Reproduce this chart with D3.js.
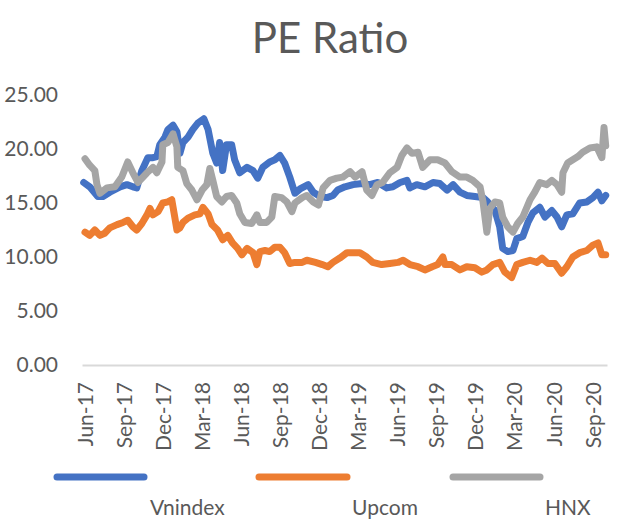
<!DOCTYPE html>
<html>
<head>
<meta charset="utf-8">
<script src="https://cdn.jsdelivr.net/npm/d3@7"></script>
<style>
  html, body { margin: 0; padding: 0; background: #fff; }
  svg { display: block; }
  text { font-family: Lato, "Noto Sans", sans-serif; fill: #595959; }
</style>
</head>
<body>
<svg id="chart" width="621" height="532"></svg>
<script>
// ---------- DATA ----------
const title = "PE Ratio";
const seriesNames = ["Vnindex", "Upcom", "HNX"];
const yTicks = [0, 5, 10, 15, 20, 25];
const xTickDates = ["2017-06-01","2017-09-01","2017-12-01","2018-03-01","2018-06-01","2018-09-01","2018-12-01","2019-03-01","2019-06-01","2019-09-01","2019-12-01","2020-03-01","2020-06-01","2020-09-01"];

const vnDates = ["2017-05-29","2017-06-12","2017-07-01","2017-07-13","2017-07-29","2017-08-22","2017-09-07","2017-09-21","2017-09-30","2017-10-12","2017-10-26","2017-11-07","2017-11-16","2017-11-23","2017-12-05","2017-12-12","2017-12-24","2018-01-02","2018-01-09","2018-01-16","2018-01-28","2018-02-08","2018-02-20","2018-03-06","2018-03-16","2018-03-27","2018-04-05","2018-04-12","2018-04-19","2018-04-28","2018-05-10","2018-05-17","2018-05-29","2018-06-15","2018-06-29","2018-07-10","2018-07-22","2018-08-07","2018-08-19","2018-08-31","2018-09-11","2018-09-23","2018-10-05","2018-10-17","2018-11-05","2018-11-17","2018-12-03","2018-12-19","2019-01-02","2019-01-13","2019-01-30","2019-02-18","2019-03-11","2019-03-29","2019-04-17","2019-05-08","2019-05-22","2019-06-08","2019-06-24","2019-07-01","2019-07-17","2019-08-05","2019-08-24","2019-09-09","2019-09-26","2019-10-10","2019-10-26","2019-11-11","2019-11-30","2019-12-19","2019-12-30","2020-01-16","2020-01-27","2020-02-03","2020-02-15","2020-02-27","2020-03-07","2020-03-21","2020-04-02","2020-04-14","2020-04-30","2020-05-12","2020-05-28","2020-06-09","2020-06-20","2020-07-02","2020-07-16","2020-08-01","2020-08-18","2020-09-01","2020-09-13","2020-09-22","2020-10-01"];
const vnValues = [16.9,16.5,15.6,15.6,16.0,16.5,16.7,16.5,16.4,18.0,19.2,19.2,19.3,20.4,21.1,21.8,22.2,21.6,19.6,20.6,21.1,21.8,22.4,22.8,21.8,19.6,18.7,20.6,18.0,20.4,20.4,19.0,17.8,18.3,18.0,17.3,18.3,18.8,19.0,19.4,18.7,17.4,15.9,16.3,16.7,16.0,15.6,15.5,15.7,16.2,16.5,16.7,16.8,16.7,16.9,16.4,16.5,16.9,17.1,16.4,16.7,16.5,16.9,16.8,16.2,16.7,16.0,15.7,15.6,15.5,15.1,14.3,12.8,10.8,10.5,10.6,11.7,11.9,13.2,14.1,14.6,13.7,14.3,13.7,12.8,13.9,14.0,15.0,15.1,15.5,16.0,15.2,15.7];

const upDates = ["2017-06-01","2017-06-12","2017-06-24","2017-07-06","2017-07-17","2017-07-29","2017-08-15","2017-08-29","2017-09-09","2017-09-21","2017-09-30","2017-10-12","2017-10-24","2017-10-31","2017-11-07","2017-11-19","2017-11-30","2017-12-12","2017-12-21","2017-12-28","2018-01-02","2018-01-09","2018-01-16","2018-01-28","2018-02-13","2018-02-25","2018-03-04","2018-03-16","2018-03-25","2018-04-07","2018-04-19","2018-05-01","2018-05-12","2018-05-24","2018-06-03","2018-06-15","2018-06-29","2018-07-08","2018-07-15","2018-07-27","2018-08-07","2018-08-19","2018-08-31","2018-09-11","2018-09-23","2018-10-05","2018-10-22","2018-11-02","2018-11-22","2018-12-08","2018-12-21","2019-01-02","2019-01-18","2019-02-04","2019-02-18","2019-03-06","2019-03-22","2019-04-05","2019-04-26","2019-05-15","2019-06-03","2019-06-15","2019-07-01","2019-07-20","2019-08-05","2019-08-22","2019-09-04","2019-09-16","2019-09-21","2019-10-07","2019-10-26","2019-11-11","2019-11-30","2019-12-16","2019-12-28","2020-01-11","2020-01-27","2020-02-08","2020-02-24","2020-03-07","2020-03-21","2020-04-07","2020-04-23","2020-05-05","2020-05-19","2020-06-04","2020-06-20","2020-07-02","2020-07-16","2020-08-01","2020-08-18","2020-09-01","2020-09-13","2020-09-22","2020-10-01"];
const upValues = [12.3,12.0,12.5,12.0,12.2,12.7,13.0,13.2,13.4,12.8,12.5,13.1,13.9,14.5,13.9,14.2,15.0,15.1,15.3,13.7,12.5,12.7,13.2,13.6,13.9,14.0,14.6,14.0,13.0,12.5,11.6,12.0,11.3,10.8,10.2,10.8,10.4,9.3,10.5,10.6,10.5,10.9,10.9,10.4,9.4,9.5,9.5,9.7,9.5,9.3,9.1,9.5,9.9,10.4,10.4,10.4,10.0,9.5,9.3,9.4,9.5,9.7,9.3,9.1,8.8,9.1,9.3,10.0,9.3,9.3,8.8,9.1,9.0,8.6,8.8,9.3,9.5,8.6,8.1,9.3,9.5,9.7,9.5,9.9,9.4,9.4,8.5,9.1,10.0,10.4,10.6,11.1,11.3,10.2,10.2];

const hnxDates = ["2017-06-01","2017-06-12","2017-06-24","2017-06-29","2017-07-06","2017-07-22","2017-08-10","2017-08-26","2017-09-09","2017-09-21","2017-10-03","2017-10-24","2017-11-07","2017-11-16","2017-11-28","2017-11-30","2017-12-12","2017-12-24","2018-01-02","2018-01-04","2018-01-16","2018-01-25","2018-02-06","2018-02-18","2018-03-02","2018-03-13","2018-03-20","2018-03-27","2018-04-05","2018-04-17","2018-04-28","2018-05-10","2018-05-22","2018-05-29","2018-06-10","2018-06-26","2018-07-08","2018-07-15","2018-07-31","2018-08-12","2018-08-19","2018-09-04","2018-09-16","2018-09-28","2018-10-05","2018-10-22","2018-11-02","2018-11-17","2018-11-29","2018-12-10","2018-12-26","2019-01-11","2019-01-25","2019-02-11","2019-02-23","2019-03-11","2019-03-22","2019-04-03","2019-04-15","2019-04-28","2019-05-15","2019-06-01","2019-06-12","2019-06-24","2019-07-06","2019-07-20","2019-07-31","2019-08-17","2019-09-04","2019-09-21","2019-10-07","2019-10-26","2019-11-11","2019-11-25","2019-12-12","2019-12-19","2019-12-28","2020-01-04","2020-01-16","2020-01-27","2020-02-03","2020-02-15","2020-02-27","2020-03-09","2020-03-21","2020-04-07","2020-04-18","2020-04-30","2020-05-16","2020-05-28","2020-06-09","2020-06-20","2020-06-23","2020-07-04","2020-07-16","2020-07-28","2020-08-08","2020-08-25","2020-09-10","2020-09-22","2020-09-27","2020-10-01"];
const hnxValues = [19.1,18.5,18.0,16.7,15.9,16.4,16.5,17.4,18.8,17.8,16.9,17.8,18.3,17.8,18.8,20.4,20.6,21.4,20.2,18.3,18.0,16.8,16.2,15.3,16.2,16.7,18.2,17.1,15.6,15.1,15.6,15.7,15.0,14.0,13.2,13.1,13.9,13.2,13.2,13.7,15.6,15.5,15.1,14.2,15.0,15.5,15.7,15.1,14.8,16.4,17.1,17.3,17.4,17.9,17.4,17.9,16.2,15.7,16.7,16.9,17.8,18.3,19.4,20.1,19.6,19.7,18.3,19.0,19.0,18.7,17.9,17.4,17.4,17.1,16.5,15.1,12.3,14.5,15.1,15.0,13.7,12.8,12.3,13.1,13.7,15.3,16.0,16.9,16.7,17.1,16.7,16.0,17.8,18.7,19.0,19.3,19.7,20.1,20.2,19.2,22.0,20.3];

const colors = ["#4472C4", "#ED7D31", "#A5A5A5"];

// ---------- CHART ----------
const parse = d3.timeParse("%Y-%m-%d");
const svg = d3.select("#chart");

const plot = { left: 82, right: 607, top: 95, bottom: 365 };

const x = d3.scaleTime()
  .domain([parse("2017-05-25"), parse("2020-10-04")])
  .range([plot.left, plot.right]);
const y = d3.scaleLinear().domain([0, 25]).range([plot.bottom, plot.top]);

// title
svg.append("text")
  .attr("x", 330).attr("y", 53)
  .attr("text-anchor", "middle")
  .style("font-size", "42px")
  .text(title);

// y axis (labels only)
const yAxis = d3.axisLeft(y).tickValues(yTicks).tickFormat(d3.format(".2f")).tickSize(0).tickPadding(0);
const gy = svg.append("g").attr("transform", "translate(58,0)").call(yAxis);
gy.select(".domain").remove();
gy.selectAll("text").style("font-size", "21px").style("font-family", "Lato, sans-serif").attr("fill", "#595959");

// x axis line
const xAxis = d3.axisBottom(x).tickValues(xTickDates.map(parse)).tickFormat(d3.timeFormat("%b-%y")).tickSize(0).tickPadding(0);
const gx = svg.append("g").attr("transform", `translate(0,${plot.bottom})`).call(xAxis);
gx.select(".domain").attr("stroke", "#D9D9D9").attr("stroke-width", 2);
gx.selectAll(".tick text")
  .style("font-size", "21px").style("font-family", "Lato, sans-serif").attr("fill", "#595959")
  .attr("text-anchor", "end")
  .attr("transform", "rotate(-90)")
  .attr("x", -17).attr("y", 0).attr("dy", "0.36em");

// lines
const seriesList = [
  { name: seriesNames[0], dates: vnDates, values: vnValues, color: colors[0] },
  { name: seriesNames[1], dates: upDates, values: upValues, color: colors[1] },
  { name: seriesNames[2], dates: hnxDates, values: hnxValues, color: colors[2] }
];
const line = d3.line().x(d => x(d.date)).y(d => y(d.value));
seriesList.forEach(s => {
  const pts = s.dates.map((d, i) => ({ date: parse(d), value: s.values[i] }));
  svg.append("path")
    .datum(pts)
    .attr("d", line)
    .attr("fill", "none")
    .attr("stroke", s.color)
    .attr("stroke-width", 7)
    .attr("stroke-linejoin", "round")
    .attr("stroke-linecap", "round");
});

// legend
const legendPos = [
  { x1: 57, x2: 144, tx: 150 },
  { x1: 259, x2: 347, tx: 352 },
  { x1: 453, x2: 540, tx: 545 }
];
seriesList.forEach((s, i) => {
  const p = legendPos[i];
  svg.append("line")
    .attr("x1", p.x1).attr("x2", p.x2).attr("y1", 477).attr("y2", 477)
    .attr("stroke", s.color).attr("stroke-width", 7).attr("stroke-linecap", "round");
  svg.append("text")
    .attr("x", p.tx).attr("y", 515)
    .style("font-size", "21px")
    .text(s.name);
});
</script>
</body>
</html>
